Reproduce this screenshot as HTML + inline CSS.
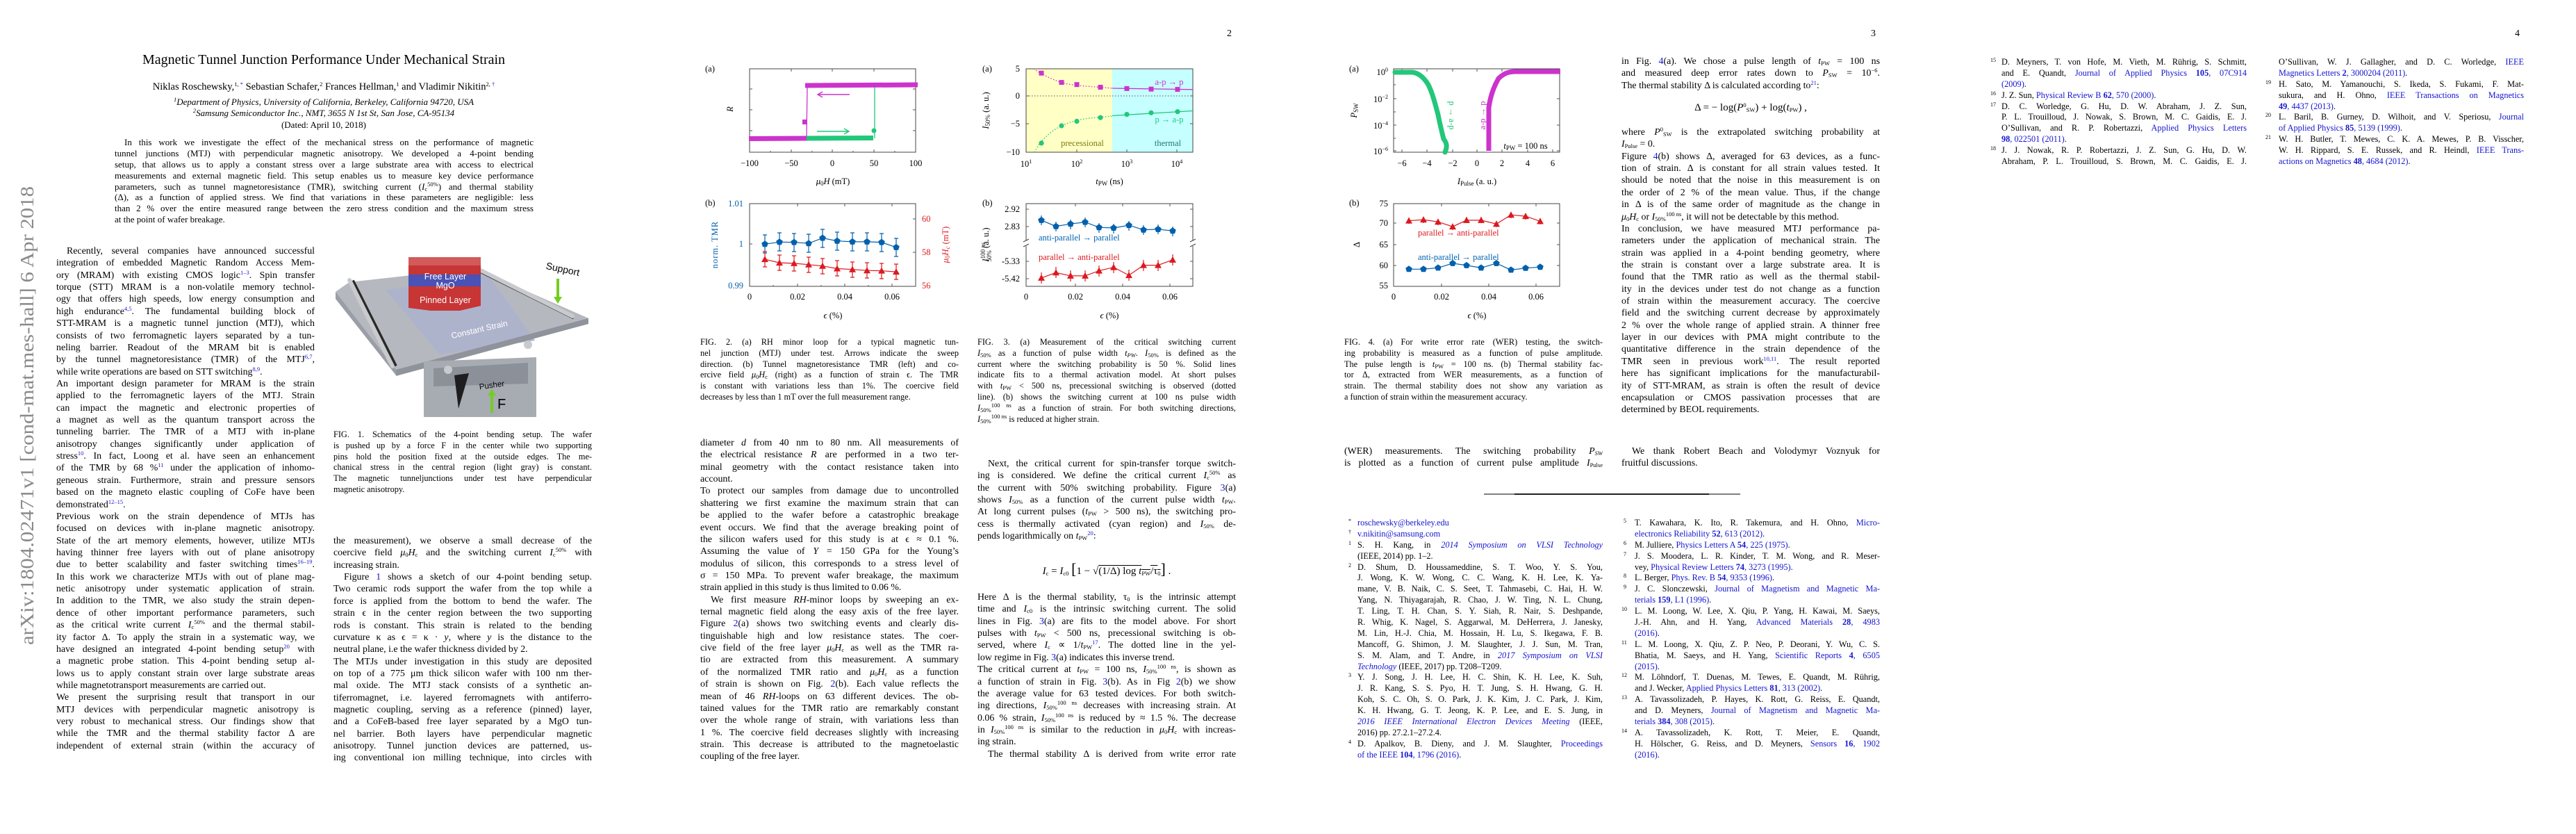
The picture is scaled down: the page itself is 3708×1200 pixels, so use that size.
<!DOCTYPE html>
<html><head><meta charset="utf-8">
<style>
html,body{margin:0;padding:0;background:#fff}
body{width:3708px;height:1200px;position:relative;overflow:hidden;font-family:"Liberation Serif",serif;color:#000}
.c{position:absolute;width:372px;font-size:13.9px;line-height:17.37px}
.c div{height:17.37px;overflow:hidden;text-align:justify;text-align-last:justify;white-space:normal}
.c div.e{text-align-last:left}
.c div.i{text-indent:15px}
.cap{position:absolute;width:372px;font-size:12.3px;line-height:15.8px}
.cap div{height:15.8px;overflow:hidden;text-align:justify;text-align-last:justify}
.cap div.e{text-align-last:left}
.ref{position:absolute;width:372px;font-size:12.3px;line-height:15.9px}
.ref div{height:15.9px;overflow:hidden;text-align:justify;text-align-last:justify;padding-left:19px;position:relative}
.ref div.e{text-align-last:left}
.ref b.n{position:absolute;left:6px;top:-3px;font-size:8px;font-weight:normal}
a,.bl{color:#1515d0;text-decoration:none}
sup{font-size:8.5px;line-height:0;vertical-align:5px}
sub{font-size:8.5px;line-height:0;vertical-align:-2px}
.ab{position:absolute;left:165px;width:603px;font-size:13px;line-height:15.9px}
.ab div{height:15.9px;overflow:hidden;text-align:justify;text-align-last:justify}
.ab div.e{text-align-last:left}
.ctr{position:absolute;text-align:center;white-space:nowrap}
svg{position:absolute;left:0;top:0}
</style></head><body>
<svg width="3708" height="1200" viewBox="0 0 3708 1200" font-family="Liberation Serif, serif">
<defs>
<polygon id="tr" points="0,-5 -5,4 5,4"/>
<polygon id="pt" points="0,-5 4.8,-1.5 3,4 -3,4 -4.8,-1.5"/>
</defs>
<!-- arXiv sidebar -->
<text x="0" y="0" transform="translate(48,598) rotate(-90)" text-anchor="middle" font-size="27" fill="#8a8a8a" textLength="660" lengthAdjust="spacingAndGlyphs">arXiv:1804.02471v1  [cond-mat.mes-hall]  6 Apr 2018</text>

<!-- FIG 1 -->
<g>
<polygon points="483,420 503,406 683,386 847,458 847,466 570,540 483,430" fill="#9a9ea6"/>
<polygon points="483,420 503,406 683,386 847,458 570,532" fill="#b5b8be"/>
<polygon points="555,417 703,396 770,490 633,510" fill="#aeb3cc"/>
<polygon points="570,532 847,458 847,466 570,541" fill="#8f939b"/>
<line x1="507" y1="404" x2="569" y2="527" stroke="#2a2a2a" stroke-width="6"/>
<line x1="503" y1="403" x2="565" y2="527" stroke="#c8cacd" stroke-width="6" stroke-linecap="round"/>
<line x1="687" y1="388" x2="826" y2="457" stroke="#2a2a2a" stroke-width="5"/>
<line x1="684" y1="385" x2="824" y2="455" stroke="#c8cacd" stroke-width="6" stroke-linecap="round"/>
<polygon points="588,370 692,370 692,440 662,447 620,447 588,443" fill="#c73535"/>
<polygon points="588,370 692,370 692,382 588,382" fill="#d35a5a"/>
<polygon points="588,395 692,395 692,412 588,412" fill="#4a52b5"/>
<polygon points="610,520 772,514 772,600 610,600" fill="#a7abb2"/>
<polygon points="624,530 760,522 760,552 624,556" fill="#8c9098"/>
<polygon points="654,540 675,537 660,588" fill="#1e1e1e"/>
<circle cx="645" cy="532" r="6" fill="#c8cacd"/><circle cx="760" cy="496" r="6" fill="#c8cacd"/>
<g font-family="Liberation Sans, sans-serif" fill="#fff">
<text x="641" y="402" font-size="12.5" text-anchor="middle">Free Layer</text>
<text x="641" y="415" font-size="12.5" text-anchor="middle">MgO</text>
<text x="641" y="436" font-size="12.5" text-anchor="middle">Pinned Layer</text>
<text x="690" y="478" font-size="12" text-anchor="middle" transform="rotate(-13 690 474)">Constant Strain</text>
</g>
<text x="810" y="392" font-family="Liberation Sans, sans-serif" font-size="14" text-anchor="middle" transform="rotate(12 810 388)">Support</text>
<line x1="803" y1="401" x2="803" y2="428" stroke="#74cc22" stroke-width="4"/><polygon points="797,427 809,427 803,437" fill="#74cc22"/>
<text x="708" y="558" font-family="Liberation Sans, sans-serif" font-size="11.5" text-anchor="middle" transform="rotate(-8 708 555)">Pusher</text>
<line x1="708" y1="594" x2="708" y2="568" stroke="#74cc22" stroke-width="4"/><polygon points="702,569 714,569 708,560" fill="#74cc22"/>
<text x="716" y="588" font-family="Liberation Sans, sans-serif" font-size="20">F</text>
</g>

<!-- FIG 2a -->
<g font-size="12.5">
<text x="1015" y="103">(a)</text>
<rect x="1079" y="99" width="239" height="120" fill="none" stroke="#444" stroke-width="1"/>
<g stroke="#555" stroke-width="1">
<path d="M1139,219v-4M1198,219v-4M1258,219v-4M1109,219v-2M1169,219v-2M1228,219v-2M1288,219v-2M1139,99v4M1198,99v4M1258,99v4M1079,128h4M1079,158h4M1079,188h4M1318,128h-4M1318,158h-4M1318,188h-4"/>
</g>
<line x1="1078" y1="199.5" x2="1161" y2="199" stroke="#cc33cc" stroke-width="7"/>
<line x1="1161" y1="199" x2="1162" y2="123" stroke="#cc33cc" stroke-width="1.3"/>
<rect x="1155" y="172" width="7" height="7" fill="#cc33cc"/>
<line x1="1161" y1="199" x2="1257" y2="198.5" stroke="#22c77a" stroke-width="7"/>
<line x1="1259" y1="199" x2="1259" y2="123" stroke="#22c77a" stroke-width="1.3"/>
<circle cx="1258" cy="188" r="3.5" fill="#22c77a"/>
<line x1="1159" y1="123" x2="1321" y2="122" stroke="#cc33cc" stroke-width="7"/>
<path d="M1223,136H1178M1184,132l-7,4l7,4" stroke="#cc33cc" stroke-width="1.4" fill="none"/>
<path d="M1176,189H1221M1215,185l7,4l-7,4" stroke="#22c77a" stroke-width="1.4" fill="none"/>
<g text-anchor="middle"><text x="1079" y="239">−100</text><text x="1139" y="239">−50</text><text x="1198" y="239">0</text><text x="1258" y="239">50</text><text x="1318" y="239">100</text></g>
<text x="1199" y="265" text-anchor="middle" font-style="italic">μ<tspan font-style="normal" font-size="9" dy="2">0</tspan><tspan dy="-2">H</tspan> <tspan font-style="normal">(mT)</tspan></text>
<text x="0" y="0" transform="translate(1055,157) rotate(-90)" text-anchor="middle" font-style="italic">R</text>
</g>

<!-- FIG 2b -->
<g font-size="12.5">
<text x="1015" y="296">(b)</text>
<rect x="1079" y="293" width="239" height="119" fill="none" stroke="#444"/>
<g stroke="#555"><path d="M1148,412v-4M1216,412v-4M1284,412v-4M1113,412v-2M1182,412v-2M1250,412v-2M1148,293v4M1216,293v4M1284,293v4M1079,351h4M1318,315h-4M1318,363h-4"/></g>
<g fill="#0060ad" text-anchor="end"><text x="1070" y="297">1.01</text><text x="1070" y="355">1</text><text x="1070" y="415">0.99</text></g>
<g fill="#dd181f"><text x="1327" y="319">60</text><text x="1327" y="367">58</text><text x="1327" y="415">56</text></g>
<g text-anchor="middle"><text x="1079" y="431">0</text><text x="1148" y="431">0.02</text><text x="1216" y="431">0.04</text><text x="1284" y="431">0.06</text></g>
<text x="1199" y="458" text-anchor="middle"><tspan font-style="italic">ϵ</tspan> (%)</text>
<text transform="translate(1033,352) rotate(-90)" text-anchor="middle" fill="#0060ad" letter-spacing="1">norm.  TMR</text>
<text transform="translate(1365,352) rotate(-90)" text-anchor="middle" fill="#dd181f" font-style="italic">μ<tspan font-size="9" font-style="normal" dy="2">0</tspan><tspan dy="-2">H</tspan><tspan font-size="9" dy="2">c</tspan><tspan dy="-2" font-style="normal">  (mT)</tspan></text>
<g stroke="#0060ad" stroke-width="1.2" fill="none">
<polyline points="1101,351.3 1122,348.3 1143,348.6 1164,350.2 1184,342.5 1205,346.7 1227,347.9 1248,347.9 1269,348.6 1290,355.9"/>
<path d="M1101,338v26M1122,335v26M1143,336v26M1164,337v26M1184,330v26M1205,334v26M1227,335v26M1248,335v26M1269,336v26M1290,343v26"/>
<path d="M1098,338h6M1098,364h6M1119,335h6M1119,361h6M1140,336h6M1140,362h6M1161,337h6M1161,363h6M1181,330h6M1181,356h6M1202,334h6M1202,360h6M1224,335h6M1224,361h6M1245,335h6M1245,361h6M1266,336h6M1266,362h6M1287,343h6M1287,369h6"/>
</g>
<g fill="#0060ad"><use href="#pt" x="1101" y="351.3"/><use href="#pt" x="1122" y="348.3"/><use href="#pt" x="1143" y="348.6"/><use href="#pt" x="1164" y="350.2"/><use href="#pt" x="1184" y="342.5"/><use href="#pt" x="1205" y="346.7"/><use href="#pt" x="1227" y="347.9"/><use href="#pt" x="1248" y="347.9"/><use href="#pt" x="1269" y="348.6"/><use href="#pt" x="1290" y="355.9"/></g>
<g stroke="#dd181f" stroke-width="1.2" fill="none">
<polyline points="1101,373.1 1122,378.1 1143,378.9 1164,380.8 1184,382.7 1205,386.5 1227,387.7 1248,389.2 1269,389.6 1290,391.1"/>
<path d="M1101,362v22M1122,367v22M1143,368v22M1164,370v22M1184,372v22M1205,375v22M1227,377v22M1248,378v22M1269,379v22M1290,380v22"/>
<path d="M1098,362h6M1098,384h6M1119,367h6M1119,389h6M1140,368h6M1140,390h6M1161,370h6M1161,392h6M1181,372h6M1181,394h6M1202,375h6M1202,397h6M1224,377h6M1224,399h6M1245,378h6M1245,400h6M1266,379h6M1266,401h6M1287,380h6M1287,402h6"/>
</g>
<g fill="#dd181f"><use href="#tr" x="1101" y="373.1"/><use href="#tr" x="1122" y="378.1"/><use href="#tr" x="1143" y="378.9"/><use href="#tr" x="1164" y="380.8"/><use href="#tr" x="1184" y="382.7"/><use href="#tr" x="1205" y="386.5"/><use href="#tr" x="1227" y="387.7"/><use href="#tr" x="1248" y="389.2"/><use href="#tr" x="1269" y="389.6"/><use href="#tr" x="1290" y="391.1"/></g>
</g>

<!-- FIG 3a -->
<g font-size="12.5">
<text x="1414" y="103">(a)</text>
<rect x="1477" y="99" width="124" height="120" fill="#ffffc6"/>
<rect x="1601" y="99" width="116" height="120" fill="#c6ffff"/>
<rect x="1477" y="99" width="240" height="120" fill="none" stroke="#444"/>
<line x1="1477" y1="138" x2="1717" y2="138" stroke="#555" stroke-dasharray="1.5,2.5"/>
<g stroke="#555"><path d="M1550,219v-4M1622,219v-4M1694,219v-4M1477,178h4M1477,138h4M1477,99h0M1717,178h-4M1717,138h-4"/></g>
<g text-anchor="end"><text x="1468" y="103">5</text><text x="1468" y="142">0</text><text x="1468" y="182">−5</text><text x="1468" y="223">−10</text></g>
<g text-anchor="middle"><text x="1477" y="240">10<tspan font-size="8" dy="-5">1</tspan></text><text x="1550" y="240">10<tspan font-size="8" dy="-5">2</tspan></text><text x="1622" y="240">10<tspan font-size="8" dy="-5">3</tspan></text><text x="1694" y="240">10<tspan font-size="8" dy="-5">4</tspan></text></g>
<text x="1597" y="265" text-anchor="middle"><tspan font-style="italic">t</tspan><tspan font-size="9" dy="2">PW</tspan><tspan dy="-2"> (ns)</tspan></text>
<text transform="translate(1423,159) rotate(-90)" text-anchor="middle"><tspan font-style="italic">I</tspan><tspan font-size="9" dy="2">50%</tspan><tspan dy="-2">  (a.  u.)</tspan></text>
<path d="M1488,99 C1495,104 1510,113 1528,118.6 S1570,124 1601,127" stroke="#cc33cc" fill="none" stroke-dasharray="1.5,2.5" stroke-width="1.3"/>
<path d="M1489,219 C1493,211 1505,192 1528,181 S1570,170 1601,167" stroke="#22c77a" fill="none" stroke-dasharray="1.5,2.5" stroke-width="1.3"/>
<line x1="1601" y1="127" x2="1717" y2="128.8" stroke="#cc33cc" stroke-width="1.3"/>
<line x1="1601" y1="166.5" x2="1717" y2="159.5" stroke="#22c77a" stroke-width="1.3"/>
<g fill="#cc33cc"><rect x="1495.5" y="101.7" width="7" height="7"/><rect x="1524.5" y="115.1" width="7" height="7"/><rect x="1546.5" y="118.2" width="7" height="7"/><rect x="1580.5" y="122" width="7" height="7"/><rect x="1618.5" y="123.9" width="7" height="7"/><rect x="1653.5" y="124.7" width="7" height="7"/><rect x="1691.5" y="125.1" width="7" height="7"/></g>
<g fill="#22c77a"><circle cx="1499" cy="205.9" r="3.6"/><circle cx="1528" cy="181" r="3.6"/><circle cx="1550" cy="174.5" r="3.6"/><circle cx="1584" cy="169.2" r="3.6"/><circle cx="1622" cy="164.6" r="3.6"/><circle cx="1657" cy="162.3" r="3.6"/><circle cx="1695" cy="160.7" r="3.6"/></g>
<text x="1683" y="122" text-anchor="middle" fill="#cc33cc">a-p → p</text>
<text x="1683" y="176" text-anchor="middle" fill="#22c77a">p → a-p</text>
<text x="1558" y="210" text-anchor="middle" fill="#7d7d10">precessional</text>
<text x="1681" y="210" text-anchor="middle" fill="#207878">thermal</text>
</g>

<!-- FIG 3b -->
<g font-size="12.5">
<text x="1414" y="296">(b)</text>
<rect x="1477" y="293" width="240" height="119" fill="none" stroke="#444"/>
<rect x="1472" y="346" width="10" height="8" fill="#fff"/><rect x="1712" y="346" width="10" height="8" fill="#fff"/>
<path d="M1473,348l8,-4M1473,355l8,-4M1713,348l8,-4M1713,355l8,-4" stroke="#444"/>
<g stroke="#555"><path d="M1548,412v-4M1616,412v-4M1684,412v-4M1548,293v4M1616,293v4M1684,293v4M1477,301h4M1477,326h4M1477,376h4M1477,401h4M1717,301h-4M1717,326h-4M1717,376h-4M1717,401h-4"/></g>
<g text-anchor="end"><text x="1468" y="305">2.92</text><text x="1468" y="330">2.83</text><text x="1468" y="380">-5.33</text><text x="1468" y="405">-5.42</text></g>
<g text-anchor="middle"><text x="1477" y="431">0</text><text x="1548" y="431">0.02</text><text x="1616" y="431">0.04</text><text x="1684" y="431">0.06</text></g>
<text x="1597" y="458" text-anchor="middle"><tspan font-style="italic">ϵ</tspan> (%)</text>
<text transform="translate(1423,352) rotate(-90)" text-anchor="middle"><tspan font-style="italic">I</tspan><tspan font-size="9" dy="-5">100 ns</tspan><tspan font-size="9" dx="-28" dy="9">50%</tspan><tspan dy="-4">  (a.  u.)</tspan></text>
<g stroke="#0060ad" stroke-width="1.2" fill="none">
<polyline points="1499,316.9 1520,325.7 1541,322.2 1562,319.6 1582,327.2 1603,328 1625,324.1 1646,330.7 1667,329.9 1688,332.2"/>
<path d="M1499,310v14M1520,319v14M1541,316v14M1562,313v14M1582,321v14M1603,322v14M1625,318v14M1646,324v14M1667,323v14M1688,326v14"/>
</g>
<g fill="#0060ad"><use href="#pt" x="1499" y="316.9"/><use href="#pt" x="1520" y="325.7"/><use href="#pt" x="1541" y="322.2"/><use href="#pt" x="1562" y="319.6"/><use href="#pt" x="1582" y="327.2"/><use href="#pt" x="1603" y="328"/><use href="#pt" x="1625" y="324.1"/><use href="#pt" x="1646" y="330.7"/><use href="#pt" x="1667" y="329.9"/><use href="#pt" x="1688" y="332.2"/></g>
<g stroke="#dd181f" stroke-width="1.2" fill="none">
<polyline points="1499,399.9 1520,392.3 1541,396.9 1562,396.9 1582,389.6 1603,384.6 1625,396.1 1646,381.6 1667,381.6 1688,373.9"/>
<path d="M1499,392v16M1520,384v16M1541,389v16M1562,389v16M1582,382v16M1603,377v16M1625,388v16M1646,374v16M1667,374v16M1688,366v16"/>
</g>
<g fill="#dd181f"><use href="#tr" x="1499" y="399.9"/><use href="#tr" x="1520" y="392.3"/><use href="#tr" x="1541" y="396.9"/><use href="#tr" x="1562" y="396.9"/><use href="#tr" x="1582" y="389.6"/><use href="#tr" x="1603" y="384.6"/><use href="#tr" x="1625" y="396.1"/><use href="#tr" x="1646" y="381.6"/><use href="#tr" x="1667" y="381.6"/><use href="#tr" x="1688" y="373.9"/></g>
<text x="1495" y="346" fill="#0060ad">anti-parallel → parallel</text>
<text x="1495" y="374" fill="#dd181f">parallel → anti-parallel</text>
</g>

<!-- FIG 4a -->
<g font-size="12.5">
<text x="1942" y="103">(a)</text>
<rect x="2006" y="99" width="239" height="120" fill="none" stroke="#444"/>
<g stroke="#555"><path d="M2018,219v-4M2054,219v-4M2091,219v-4M2126,219v-4M2162,219v-4M2199,219v-4M2235,219v-4M2018,99v4M2054,99v4M2091,99v4M2126,99v4M2162,99v4M2199,99v4M2235,99v4M2006,103h4M2006,122h3M2006,142h4M2006,161h3M2006,180h4M2006,199h3M2006,217h4M2245,103h-4M2245,142h-4M2245,180h-4M2245,217h-4"/></g>
<g text-anchor="end"><text x="1998" y="108">10<tspan font-size="8" dy="-5">0</tspan></text><text x="1998" y="147">10<tspan font-size="8" dy="-5">−2</tspan></text><text x="1998" y="185">10<tspan font-size="8" dy="-5">−4</tspan></text><text x="1998" y="222">10<tspan font-size="8" dy="-5">−6</tspan></text></g>
<g text-anchor="middle"><text x="2018" y="239">−6</text><text x="2054" y="239">−4</text><text x="2091" y="239">−2</text><text x="2126" y="239">0</text><text x="2162" y="239">2</text><text x="2199" y="239">4</text><text x="2235" y="239">6</text></g>
<text x="2126" y="265" text-anchor="middle"><tspan font-style="italic">I</tspan><tspan font-size="9" dy="2">Pulse</tspan><tspan dy="-2"> (a. u.)</tspan></text>
<text transform="translate(1953,159) rotate(-90)" text-anchor="middle"><tspan font-style="italic">P</tspan><tspan font-size="9" dy="2">SW</tspan></text>
<path d="M2008,104 L2033,104 C2042,105 2050,112 2056,122 C2062,134 2066,150 2070,165 C2073,180 2076,192 2078,200 C2082,205 2084,210 2080,219" stroke="#22c77a" stroke-width="7" fill="none" stroke-linecap="round"/>
<path d="M2143,217 L2143,155 C2145,140 2150,125 2157,113 C2165,105 2172,103 2182,103 L2246,103" stroke="#cc33cc" stroke-width="7" fill="none"/>
<text transform="translate(2086,166) rotate(90)" text-anchor="middle" fill="#22c77a">p → a-p</text>
<text transform="translate(2138,166) rotate(-90)" text-anchor="middle" fill="#cc33cc">a-p → p</text>
<text x="2196" y="214" text-anchor="middle"><tspan font-style="italic">t</tspan><tspan font-size="9" dy="2">PW</tspan><tspan dy="-2"> = 100 ns</tspan></text>
</g>

<!-- FIG 4b -->
<g font-size="12.5">
<text x="1942" y="296">(b)</text>
<rect x="2006" y="293" width="239" height="119" fill="none" stroke="#444"/>
<g stroke="#555"><path d="M2075,412v-4M2143,412v-4M2211,412v-4M2075,293v4M2143,293v4M2211,293v4M2006,321h4M2006,352h4M2006,382h4M2245,321h-4M2245,352h-4M2245,382h-4"/></g>
<g text-anchor="end"><text x="1998" y="297">75</text><text x="1998" y="325">70</text><text x="1998" y="356">65</text><text x="1998" y="386">60</text><text x="1998" y="415">55</text></g>
<g text-anchor="middle"><text x="2006" y="431">0</text><text x="2075" y="431">0.02</text><text x="2143" y="431">0.04</text><text x="2211" y="431">0.06</text></g>
<text x="2126" y="458" text-anchor="middle"><tspan font-style="italic">ϵ</tspan> (%)</text>
<text transform="translate(1957,352) rotate(-90)" text-anchor="middle">Δ</text>
<g stroke="#dd181f" stroke-width="1.2" fill="none">
<polyline points="2028,317.6 2049,316.1 2070,319.2 2091,326.1 2111,316.9 2132,316.9 2154,322.2 2175,309.2 2196,311.1 2217,318.4"/>
<path d="M2028,313v9M2049,312v9M2070,315v9M2091,322v9M2111,312v9M2132,312v9M2154,318v9M2175,305v9M2196,307v9M2217,314v9"/>
</g>
<g fill="#dd181f"><use href="#tr" x="2028" y="317.6"/><use href="#tr" x="2049" y="316.1"/><use href="#tr" x="2070" y="319.2"/><use href="#tr" x="2091" y="326.1"/><use href="#tr" x="2111" y="316.9"/><use href="#tr" x="2132" y="316.9"/><use href="#tr" x="2154" y="322.2"/><use href="#tr" x="2175" y="309.2"/><use href="#tr" x="2196" y="311.1"/><use href="#tr" x="2217" y="318.4"/></g>
<polyline points="2028,387.3 2049,387.3 2070,385.4 2091,378.9 2111,381.9 2132,385.4 2154,378.9 2175,388.4 2196,385.8 2217,384.2" stroke="#0060ad" stroke-width="1.2" fill="none"/>
<g fill="#0060ad"><use href="#pt" x="2028" y="387.3"/><use href="#pt" x="2049" y="387.3"/><use href="#pt" x="2070" y="385.4"/><use href="#pt" x="2091" y="378.9"/><use href="#pt" x="2111" y="381.9"/><use href="#pt" x="2132" y="385.4"/><use href="#pt" x="2154" y="378.9"/><use href="#pt" x="2175" y="388.4"/><use href="#pt" x="2196" y="385.8"/><use href="#pt" x="2217" y="384.2"/></g>
<text x="2041" y="339" fill="#dd181f">parallel → anti-parallel</text>
<text x="2041" y="374" fill="#0060ad">anti-parallel → parallel</text>
</g>

<!-- footnote rule -->
<line x1="2136" y1="711" x2="2505" y2="711" stroke="#000" stroke-width="1"/>
<line x1="2180" y1="711" x2="2460" y2="711" stroke="#000" stroke-width="1.8"/>
</svg>

<!-- PAGE 1 header -->
<div class="ctr" style="left:166px;width:600px;top:75px;font-size:20px">Magnetic Tunnel Junction Performance Under Mechanical Strain</div>
<div class="ctr" style="left:166px;width:600px;top:117px;font-size:14.5px">Niklas Roschewsky,<sup>1, <a>*</a></sup> Sebastian Schafer,<sup>2</sup> Frances Hellman,<sup>1</sup> and Vladimir Nikitin<sup>2, <a>†</a></sup></div>
<div class="ctr" style="left:166px;width:600px;top:139px;font-size:13px;font-style:italic"><sup>1</sup>Department of Physics, University of California, Berkeley, California 94720, USA</div>
<div class="ctr" style="left:166px;width:600px;top:155px;font-size:13px;font-style:italic"><sup>2</sup>Samsung Semiconductor Inc., NMT, 3655 N 1st St, San Jose, CA-95134</div>
<div class="ctr" style="left:166px;width:600px;top:172px;font-size:13px">(Dated: April 10, 2018)</div>
<div class="ab" style="top:197px">
<div style="text-indent:14px">In this work we investigate the effect of the mechanical stress on the performance of magnetic</div>
<div>tunnel junctions (MTJ) with perpendicular magnetic anisotropy. We developed a 4-point bending</div>
<div>setup, that allows us to apply a constant stress over a large substrate area with access to electrical</div>
<div>measurements and external magnetic field. This setup enables us to measure key device performance</div>
<div>parameters, such as tunnel magnetoresistance (TMR), switching current (<i>I</i><sub>c</sub><sup>50%</sup>) and thermal stability</div>
<div>(Δ), as a function of applied stress. We find that variations in these parameters are negligible: less</div>
<div>than 2 % over the entire measured range between the zero stress condition and the maximum stress</div>
<div class="e">at the point of wafer breakage.</div>
</div>

<div class="c" style="left:81px;top:353px">
<div class="i">Recently, several companies have announced successful</div>
<div>integration of embedded Magnetic Random Access Mem-</div>
<div>ory (MRAM) with existing CMOS logic<sup class="bl">1–3</sup>. Spin transfer</div>
<div>torque (STT) MRAM is a non-volatile memory technol-</div>
<div>ogy that offers high speeds, low energy consumption and</div>
<div>high endurance<sup class="bl">4,5</sup>. The fundamental building block of</div>
<div>STT-MRAM is a magnetic tunnel junction (MTJ), which</div>
<div>consists of two ferromagnetic layers separated by a tun-</div>
<div>neling barrier. Readout of the MRAM bit is enabled</div>
<div>by the tunnel magnetoresistance (TMR) of the MTJ<sup class="bl">6,7</sup>,</div>
<div class="e">while write operations are based on STT switching<sup class="bl">8,9</sup>.</div>
<div>An important design parameter for MRAM is the strain</div>
<div>applied to the ferromagnetic layers of the MTJ. Strain</div>
<div>can impact the magnetic and electronic properties of</div>
<div>a magnet as well as the quantum transport across the</div>
<div>tunneling barrier. The TMR of a MTJ with in-plane</div>
<div>anisotropy changes significantly under application of</div>
<div>stress<sup class="bl">10</sup>. In fact, Loong et al. have seen an enhancement</div>
<div>of the TMR by 68 %<sup class="bl">11</sup> under the application of inhomo-</div>
<div>geneous strain. Furthermore, strain and pressure sensors</div>
<div>based on the magneto elastic coupling of CoFe have been</div>
<div class="e">demonstrated<sup class="bl">12–15</sup>.</div>
<div>Previous work on the strain dependence of MTJs has</div>
<div>focused on devices with in-plane magnetic anisotropy.</div>
<div>State of the art memory elements, however, utilize MTJs</div>
<div>having thinner free layers with out of plane anisotropy</div>
<div>due to better scalability and faster switching times<sup class="bl">16–19</sup>.</div>
<div>In this work we characterize MTJs with out of plane mag-</div>
<div>netic anisotropy under systematic application of strain.</div>
<div>In addition to the TMR, we also study the strain depen-</div>
<div>dence of other important performance parameters, such</div>
<div>as the critical write current <i>I</i><sub>c</sub><sup>50%</sup> and the thermal stabil-</div>
<div>ity factor Δ. To apply the strain in a systematic way, we</div>
<div>have designed an integrated 4-point bending setup<sup class="bl">20</sup> with</div>
<div>a magnetic probe station. This 4-point bending setup al-</div>
<div>lows us to apply constant strain over large substrate areas</div>
<div class="e">while magnetotransport measurements are carried out.</div>
<div>We present the surprising result that transport in our</div>
<div>MTJ devices with perpendicular magnetic anisotropy is</div>
<div>very robust to mechanical stress. Our findings show that</div>
<div>while the TMR and the thermal stability factor Δ are</div>
<div>independent of external strain (within the accuracy of</div>
</div>

<div class="cap" style="left:480px;top:618px">
<div>FIG. 1. Schematics of the 4-point bending setup. The wafer</div>
<div>is pushed up by a force F in the center while two supporting</div>
<div>pins hold the position fixed at the outside edges. The me-</div>
<div>chanical stress in the central region (light gray) is constant.</div>
<div>The magnetic tunneljunctions under test have perpendicular</div>
<div class="e">magnetic anisotropy.</div>
</div>

<div class="c" style="left:480px;top:770px">
<div>the measurement), we observe a small decrease of the</div>
<div>coercive field <i>μ</i><sub>0</sub><i>H</i><sub>c</sub> and the switching current <i>I</i><sub>c</sub><sup>50%</sup> with</div>
<div class="e">increasing strain.</div>
<div class="i">Figure <span class="bl">1</span> shows a sketch of our 4-point bending setup.</div>
<div>Two ceramic rods support the wafer from the top while a</div>
<div>force is applied from the bottom to bend the wafer. The</div>
<div>strain ϵ in the center region between the two supporting</div>
<div>rods is constant. This strain is related to the bending</div>
<div>curvature κ as ϵ = κ · <i>y</i>, where <i>y</i> is the distance to the</div>
<div class="e">neutral plane, i.e the wafer thickness divided by 2.</div>
<div>The MTJs under investigation in this study are deposited</div>
<div>on top of a 775 μm thick silicon wafer with 100 nm ther-</div>
<div>mal oxide. The MTJ stack consists of a synthetic an-</div>
<div>tiferromagnet, i.e. layered ferromagnets with antiferro-</div>
<div>magnetic coupling, serving as a reference (pinned) layer,</div>
<div>and a CoFeB-based free layer separated by a MgO tun-</div>
<div>nel barrier. Both layers have perpendicular magnetic</div>
<div>anisotropy. Tunnel junction devices are patterned, us-</div>
<div>ing conventional ion milling technique, into circles with</div>
</div>

<!-- PAGE 2 -->
<div class="ctr" style="left:1766px;top:41px;font-size:14px">2</div>
<div class="cap" style="left:1008px;top:485px">
<div>FIG. 2. (a) RH minor loop for a typical magnetic tun-</div>
<div>nel junction (MTJ) under test. Arrows indicate the sweep</div>
<div>direction. (b) Tunnel magnetoresistance TMR (left) and co-</div>
<div>ercive field <i>μ</i><sub>0</sub><i>H</i><sub>c</sub> (right) as a function of strain ϵ. The TMR</div>
<div>is constant with variations less than 1%. The coercive field</div>
<div class="e">decreases by less than 1 mT over the full measurement range.</div>
</div>
<div class="cap" style="left:1407px;top:485px">
<div>FIG. 3. (a) Measurement of the critical switching current</div>
<div><i>I</i><sub>50%</sub> as a function of pulse width <i>t<sub>PW</sub></i>. <i>I</i><sub>50%</sub> is defined as the</div>
<div>current where the switching probability is 50 %. Solid lines</div>
<div>indicate fits to a thermal activation model. At short pulses</div>
<div>with <i>t</i><sub>PW</sub> &lt; 500 ns, precessional switching is observed (dotted</div>
<div>line). (b) shows the switching current at 100 ns pulse width</div>
<div><i>I</i><sub>50%</sub><sup>100 ns</sup> as a function of strain. For both switching directions,</div>
<div class="e"><i>I</i><sub>50%</sub><sup>100 ns</sup> is reduced at higher strain.</div>
</div>
<div class="c" style="left:1008px;top:629px">
<div>diameter <i>d</i> from 40 nm to 80 nm. All measurements of</div>
<div>the electrical resistance <i>R</i> are performed in a two ter-</div>
<div>minal geometry with the contact resistance taken into</div>
<div class="e">account.</div>
<div>To protect our samples from damage due to uncontrolled</div>
<div>shattering we first examine the maximum strain that can</div>
<div>be applied to the wafer before a catastrophic breakage</div>
<div>event occurs. We find that the average breaking point of</div>
<div>the silicon wafers used for this study is at ϵ ≈ 0.1 %.</div>
<div>Assuming the value of <i>Y</i> = 150 GPa for the Young’s</div>
<div>modulus of silicon, this corresponds to a stress level of</div>
<div>σ = 150 MPa. To prevent wafer breakage, the maximum</div>
<div class="e">strain applied in this study is thus limited to 0.06 %.</div>
<div class="i">We first measure <i>RH</i>-minor loops by sweeping an ex-</div>
<div>ternal magnetic field along the easy axis of the free layer.</div>
<div>Figure <span class="bl">2</span>(a) shows two switching events and clearly dis-</div>
<div>tinguishable high and low resistance states. The coer-</div>
<div>cive field of the free layer <i>μ</i><sub>0</sub><i>H</i><sub>c</sub> as well as the TMR ra-</div>
<div>tio are extracted from this measurement. A summary</div>
<div>of the normalized TMR ratio and <i>μ</i><sub>0</sub><i>H</i><sub>c</sub> as a function</div>
<div>of strain is shown on Fig. <span class="bl">2</span>(b). Each value reflects the</div>
<div>mean of 46 <i>RH</i>-loops on 63 different devices. The ob-</div>
<div>tained values for the TMR ratio are remarkably constant</div>
<div>over the whole range of strain, with variations less than</div>
<div>1 %. The coercive field decreases slightly with increasing</div>
<div>strain. This decrease is attributed to the magnetoelastic</div>
<div class="e">coupling of the free layer.</div>
</div>
<div class="c" style="left:1407px;top:659px">
<div class="i">Next, the critical current for spin-transfer torque switch-</div>
<div>ing is considered. We define the critical current <i>I</i><sub>c</sub><sup>50%</sup> as</div>
<div>the current with 50% switching probability. Figure <span class="bl">3</span>(a)</div>
<div>shows <i>I</i><sub>50%</sub> as a function of the current pulse width <i>t</i><sub>PW</sub>.</div>
<div>At long current pulses (<i>t</i><sub>PW</sub> &gt; 500 ns), the switching pro-</div>
<div>cess is thermally activated (cyan region) and <i>I</i><sub>50%</sub> de-</div>
<div class="e">pends logarithmically on <i>t</i><sub>PW</sub><sup class="bl">20</sup>:</div>
</div>
<div class="ctr" style="left:1407px;width:372px;top:806px;font-size:15px"><i>I</i><sub>c</sub> = <i>I</i><sub>c0</sub> <span style="font-size:22px">[</span>1 − √<span style="text-decoration:overline">(1/Δ) log <i>t</i><sub>PW</sub>/τ<sub>0</sub></span><span style="font-size:22px">]</span> .</div>
<div class="c" style="left:1407px;top:851px">
<div>Here Δ is the thermal stability, τ<sub>0</sub> is the intrinsic attempt</div>
<div>time and <i>I</i><sub>c0</sub> is the intrinsic switching current. The solid</div>
<div>lines in Fig. <span class="bl">3</span>(a) are fits to the model above. For short</div>
<div>pulses with <i>t</i><sub>PW</sub> &lt; 500 ns, precessional switching is ob-</div>
<div>served, where <i>I</i><sub>c</sub> ∝ 1/<i>t</i><sub>PW</sub><sup class="bl">17</sup>. The dotted line in the yel-</div>
<div class="e">low regime in Fig. <span class="bl">3</span>(a) indicates this inverse trend.</div>
<div>The critical current at <i>t</i><sub>PW</sub> = 100 ns, <i>I</i><sub>50%</sub><sup>100 ns</sup>, is shown as</div>
<div>a function of strain in Fig. <span class="bl">3</span>(b). As in Fig <span class="bl">2</span>(b) we show</div>
<div>the average value for 63 tested devices. For both switch-</div>
<div>ing directions, <i>I</i><sub>50%</sub><sup>100 ns</sup> decreases with increasing strain. At</div>
<div>0.06 % strain, <i>I</i><sub>50%</sub><sup>100 ns</sup> is reduced by ≈ 1.5 %. The decrease</div>
<div>in <i>I</i><sub>50%</sub><sup>100 ns</sup> is similar to the reduction in <i>μ</i><sub>0</sub><i>H</i><sub>c</sub> with increas-</div>
<div class="e">ing strain.</div>
<div class="i">The thermal stability Δ is derived from write error rate</div>
</div>

<!-- PAGE 3 -->
<div class="ctr" style="left:2693px;top:41px;font-size:14px">3</div>
<div class="cap" style="left:1935px;top:485px">
<div>FIG. 4. (a) For write error rate (WER) testing, the switch-</div>
<div>ing probability is measured as a function of pulse amplitude.</div>
<div>The pulse length is <i>t</i><sub>PW</sub> = 100 ns. (b) Thermal stability fac-</div>
<div>tor Δ, extracted from WER measurements, as a function of</div>
<div>strain. The thermal stability does not show any variation as</div>
<div class="e">a function of strain within the measurement accuracy.</div>
</div>
<div class="c" style="left:2334px;top:80px">
<div>in Fig. <span class="bl">4</span>(a). We chose a pulse length of <i>t</i><sub>PW</sub> = 100 ns</div>
<div>and measured deep error rates down to <i>P</i><sub>SW</sub> = 10<sup>−6</sup>.</div>
<div class="e">The thermal stability Δ is calculated according to<sup class="bl">21</sup>:</div>
</div>
<div class="ctr" style="left:2334px;width:372px;top:147px;font-size:15px">Δ = − log(<i>P</i><sup>0</sup><sub>SW</sub>) + log(<i>t</i><sub>PW</sub>) ,</div>
<div class="c" style="left:2334px;top:182px">
<div>where <i>P</i><sup>0</sup><sub>SW</sub> is the extrapolated switching probability at</div>
<div class="e"><i>I</i><sub>Pulse</sub> = 0.</div>
<div>Figure <span class="bl">4</span>(b) shows Δ, averaged for 63 devices, as a func-</div>
<div>tion of strain. Δ is constant for all strain values tested. It</div>
<div>should be noted that the noise in this measurement is on</div>
<div>the order of 2 % of the mean value. Thus, if the change</div>
<div>in Δ is of the same order of magnitude as the change in</div>
<div class="e"><i>μ</i><sub>0</sub><i>H</i><sub>c</sub> or <i>I</i><sub>50%</sub><sup>100 ns</sup>, it will not be detectable by this method.</div>
<div>In conclusion, we have measured MTJ performance pa-</div>
<div>rameters under the application of mechanical strain. The</div>
<div>strain was applied in a 4-point bending geometry, where</div>
<div>the strain is constant over a large substrate area. It is</div>
<div>found that the TMR ratio as well as the thermal stabil-</div>
<div>ity in the devices under test do not change as a function</div>
<div>of strain within the measurement accuracy. The coercive</div>
<div>field and the switching current decrease by approximately</div>
<div>2 % over the whole range of applied strain. A thinner free</div>
<div>layer in our devices with PMA might contribute to the</div>
<div>quantitative difference in the strain dependence of the</div>
<div>TMR seen in previous work<sup class="bl">10,11</sup>. The result reported</div>
<div>here has significant implications for the manufacturabil-</div>
<div>ity of STT-MRAM, as strain is often the result of device</div>
<div>encapsulation or CMOS passivation processes that are</div>
<div class="e">determined by BEOL requirements.</div>
</div>
<div class="c" style="left:1935px;top:641px">
<div>(WER) measurements. The switching probability <i>P<sub>SW</sub></i></div>
<div>is plotted as a function of current pulse amplitude <i>I</i><sub>Pulse</sub></div>
</div>
<div class="c" style="left:2334px;top:641px">
<div class="i">We thank Robert Beach and Volodymyr Voznyuk for</div>
<div class="e">fruitful discussions.</div>
</div>

<div class="ref" style="left:1935px;top:745px">
<div class="e"><b class="n">*</b><a>roschewsky@berkeley.edu</a></div>
<div class="e"><b class="n">†</b><a>v.nikitin@samsung.com</a></div>
<div><b class="n">1</b>S. H. Kang, in <i class="bl">2014 Symposium on VLSI Technology</i></div>
<div class="e">(IEEE, 2014) pp. 1–2.</div>
<div><b class="n">2</b>D. Shum, D. Houssameddine, S. T. Woo, Y. S. You,</div>
<div>J. Wong, K. W. Wong, C. C. Wang, K. H. Lee, K. Ya-</div>
<div>mane, V. B. Naik, C. S. Seet, T. Tahmasebi, C. Hai, H. W.</div>
<div>Yang, N. Thiyagarajah, R. Chao, J. W. Ting, N. L. Chung,</div>
<div>T. Ling, T. H. Chan, S. Y. Siah, R. Nair, S. Deshpande,</div>
<div>R. Whig, K. Nagel, S. Aggarwal, M. DeHerrera, J. Janesky,</div>
<div>M. Lin, H.-J. Chia, M. Hossain, H. Lu, S. Ikegawa, F. B.</div>
<div>Mancoff, G. Shimon, J. M. Slaughter, J. J. Sun, M. Tran,</div>
<div>S. M. Alam, and T. Andre, in <i class="bl">2017 Symposium on VLSI</i></div>
<div class="e"><i class="bl">Technology</i> (IEEE, 2017) pp. T208–T209.</div>
<div><b class="n">3</b>Y. J. Song, J. H. Lee, H. C. Shin, K. H. Lee, K. Suh,</div>
<div>J. R. Kang, S. S. Pyo, H. T. Jung, S. H. Hwang, G. H.</div>
<div>Koh, S. C. Oh, S. O. Park, J. K. Kim, J. C. Park, J. Kim,</div>
<div>K. H. Hwang, G. T. Jeong, K. P. Lee, and E. S. Jung, in</div>
<div><i class="bl">2016 IEEE International Electron Devices Meeting</i> (IEEE,</div>
<div class="e">2016) pp. 27.2.1–27.2.4.</div>
<div><b class="n">4</b>D. Apalkov, B. Dieny, and J. M. Slaughter, <a>Proceedings</a></div>
<div class="e"><a>of the IEEE <b>104</b>, 1796 (2016)</a>.</div>
</div>
<div class="ref" style="left:2334px;top:745px">
<div><b class="n" style="left:3px">5</b>T. Kawahara, K. Ito, R. Takemura, and H. Ohno, <a>Micro-</a></div>
<div class="e"><a>electronics Reliability <b>52</b>, 613 (2012)</a>.</div>
<div class="e"><b class="n" style="left:3px">6</b>M. Julliere, <a>Physics Letters A <b>54</b>, 225 (1975)</a>.</div>
<div><b class="n" style="left:3px">7</b>J. S. Moodera, L. R. Kinder, T. M. Wong, and R. Meser-</div>
<div class="e">vey, <a>Physical Review Letters <b>74</b>, 3273 (1995)</a>.</div>
<div class="e"><b class="n" style="left:3px">8</b>L. Berger, <a>Phys. Rev. B <b>54</b>, 9353 (1996)</a>.</div>
<div><b class="n" style="left:3px">9</b>J. C. Slonczewski, <a>Journal of Magnetism and Magnetic Ma-</a></div>
<div class="e"><a>terials <b>159</b>, L1 (1996)</a>.</div>
<div><b class="n" style="left:0">10</b>L. M. Loong, W. Lee, X. Qiu, P. Yang, H. Kawai, M. Saeys,</div>
<div>J.-H. Ahn, and H. Yang, <a>Advanced Materials <b>28</b>, 4983</a></div>
<div class="e"><a>(2016)</a>.</div>
<div><b class="n" style="left:0">11</b>L. M. Loong, X. Qiu, Z. P. Neo, P. Deorani, Y. Wu, C. S.</div>
<div>Bhatia, M. Saeys, and H. Yang, <a>Scientific Reports <b>4</b>, 6505</a></div>
<div class="e"><a>(2015)</a>.</div>
<div><b class="n" style="left:0">12</b>M. Löhndorf, T. Duenas, M. Tewes, E. Quandt, M. Rührig,</div>
<div class="e">and J. Wecker, <a>Applied Physics Letters <b>81</b>, 313 (2002)</a>.</div>
<div><b class="n" style="left:0">13</b>A. Tavassolizadeh, P. Hayes, K. Rott, G. Reiss, E. Quandt,</div>
<div>and D. Meyners, <a>Journal of Magnetism and Magnetic Ma-</a></div>
<div class="e"><a>terials <b>384</b>, 308 (2015)</a>.</div>
<div><b class="n" style="left:0">14</b>A. Tavassolizadeh, K. Rott, T. Meier, E. Quandt,</div>
<div>H. Hölscher, G. Reiss, and D. Meyners, <a>Sensors <b>16</b>, 1902</a></div>
<div class="e"><a>(2016)</a>.</div>
</div>

<!-- PAGE 4 -->
<div class="ctr" style="left:3620px;top:41px;font-size:14px">4</div>
<div class="ref" style="left:2862px;top:82px">
<div><b class="n" style="left:3px">15</b>D. Meyners, T. von Hofe, M. Vieth, M. Rührig, S. Schmitt,</div>
<div>and E. Quandt, <a>Journal of Applied Physics <b>105</b>, 07C914</a></div>
<div class="e"><a>(2009)</a>.</div>
<div class="e"><b class="n" style="left:3px">16</b>J. Z. Sun, <a>Physical Review B <b>62</b>, 570 (2000)</a>.</div>
<div><b class="n" style="left:3px">17</b>D. C. Worledge, G. Hu, D. W. Abraham, J. Z. Sun,</div>
<div>P. L. Trouilloud, J. Nowak, S. Brown, M. C. Gaidis, E. J.</div>
<div>O’Sullivan, and R. P. Robertazzi, <a>Applied Physics Letters</a></div>
<div class="e"><a><b>98</b>, 022501 (2011)</a>.</div>
<div><b class="n" style="left:3px">18</b>J. J. Nowak, R. P. Robertazzi, J. Z. Sun, G. Hu, D. W.</div>
<div>Abraham, P. L. Trouilloud, S. Brown, M. C. Gaidis, E. J.</div>
</div>
<div class="ref" style="left:3261px;top:82px">
<div>O’Sullivan, W. J. Gallagher, and D. C. Worledge, <a>IEEE</a></div>
<div class="e"><a>Magnetics Letters <b>2</b>, 3000204 (2011)</a>.</div>
<div><b class="n" style="left:0">19</b>H. Sato, M. Yamanouchi, S. Ikeda, S. Fukami, F. Mat-</div>
<div>sukura, and H. Ohno, <a>IEEE Transactions on Magnetics</a></div>
<div class="e"><a><b>49</b>, 4437 (2013)</a>.</div>
<div><b class="n" style="left:0">20</b>L. Baril, B. Gurney, D. Wilhoit, and V. Speriosu, <a>Journal</a></div>
<div class="e"><a>of Applied Physics <b>85</b>, 5139 (1999)</a>.</div>
<div><b class="n" style="left:0">21</b>W. H. Butler, T. Mewes, C. K. A. Mewes, P. B. Visscher,</div>
<div>W. H. Rippard, S. E. Russek, and R. Heindl, <a>IEEE Trans-</a></div>
<div class="e"><a>actions on Magnetics <b>48</b>, 4684 (2012)</a>.</div>
</div>
</body></html>
